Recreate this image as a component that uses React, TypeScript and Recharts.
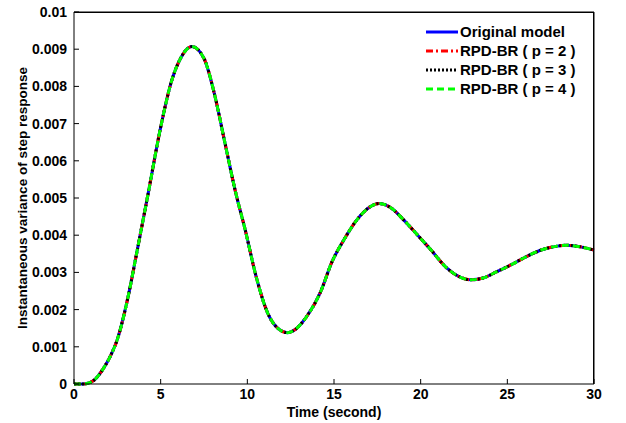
import React from 'react';
import { LineChart, Line, XAxis, YAxis, Legend, CartesianGrid } from 'recharts';

// time samples (s)
const time = [
  0, 0.5, 0.8, 1.2, 1.7, 2.1, 2.5, 3.1, 3.65, 4.25, 5.0, 5.6, 6.2, 6.8, 7.5, 8.1, 8.7, 9.3, 9.9,
  10.5, 11.2, 11.8, 12.3, 12.8, 13.4, 14.2, 14.9, 15.6, 16.3, 16.9, 17.6, 18.3, 19.0, 19.6, 20.1,
  20.6, 21.5, 22.2, 22.9, 23.6, 24.4, 25.2, 26.0, 27.0, 27.8, 28.4, 29.3, 30,
];

const originalModel = [
  0, 0, 0.00002, 0.00012, 0.00042, 0.00075, 0.0012, 0.0023, 0.0036, 0.00505, 0.0069, 0.0081,
  0.0088, 0.00907, 0.00875, 0.0078, 0.0065, 0.0052, 0.0041, 0.0029, 0.00188, 0.00148, 0.00138,
  0.00148, 0.0018, 0.00245, 0.0033, 0.0039, 0.0044, 0.0047, 0.00485, 0.00473, 0.00442, 0.00412,
  0.00386, 0.0036, 0.00312, 0.00289, 0.0028, 0.00285, 0.00302, 0.0032, 0.0034, 0.00361, 0.0037,
  0.00373, 0.00368, 0.0036,
];
// reduced models overlap the original everywhere
const rpdP2 = originalModel;
const rpdP3 = originalModel;
const rpdP4 = originalModel;

const xTicks = [0, 5, 10, 15, 20, 25, 30];
const yTicks = [0, 0.001, 0.002, 0.003, 0.004, 0.005, 0.006, 0.007, 0.008, 0.009, 0.01];
// top and right edges of the axes box
const boxTop = [0.01];
const boxRight = [30];

const data = time.map((t, i) => ({
  t,
  original: originalModel[i],
  p2: rpdP2[i],
  p3: rpdP3[i],
  p4: rpdP4[i],
}));

// chart layout
const W = 626;
const H = 423;
const M = { top: 12, right: 32, bottom: 0, left: 0 };
const Y_W = 74;
const X_H = 39;

const font = { fontFamily: '"Liberation Sans", Arial, sans-serif', fontWeight: 700, fill: '#000' };

const LegendBox = (props: any) => {
  const items = props.payload || [];
  return (
    <div style={{ fontFamily: font.fontFamily, fontWeight: 700, fontSize: 15, color: '#000' }}>
      {items.map((it: any) => (
        <div key={it.value} style={{ display: 'flex', alignItems: 'center', height: 19 }}>
          <svg width={32} height={8} style={{ marginRight: 2 }}>
            <line
              x1={0}
              y1={4}
              x2={32}
              y2={4}
              stroke={it.color}
              strokeWidth={3}
              strokeDasharray={it.payload?.strokeDasharray}
            />
          </svg>
          <span style={{ whiteSpace: 'nowrap' }}>{it.value}</span>
        </div>
      ))}
    </div>
  );
};

export default function App() {
  return (
    <div style={{ position: 'absolute', left: 0, top: 0, width: W, height: H, background: '#fff' }}>
      <LineChart width={W} height={H} data={data} margin={M}>
        <CartesianGrid stroke="#000" horizontalValues={boxTop} verticalValues={boxRight} />
        <XAxis
          dataKey="t"
          type="number"
          domain={[0, 30]}
          ticks={xTicks}
          height={X_H}
          tickSize={-5}
          tickMargin={10}
          axisLine={{ stroke: '#000' }}
          tickLine={{ stroke: '#000' }}
          tick={{ ...font, fontSize: 14 }}
          label={{ value: 'Time (second)', position: 'insideBottom', offset: 6, style: { ...font, fontSize: 14 } }}
        />
        <XAxis
          xAxisId="top"
          dataKey="t"
          orientation="top"
          type="number"
          domain={[0, 30]}
          ticks={xTicks}
          height={0}
          mirror
          tickSize={5}
          stroke="#000"
          tick={false}
        />
        <YAxis
          type="number"
          domain={[0, 0.01]}
          ticks={yTicks}
          width={Y_W}
          tickSize={-5}
          tickMargin={12}
          interval={0}
          axisLine={{ stroke: '#000' }}
          tickLine={{ stroke: '#000' }}
          tick={{ ...font, fontSize: 14 }}
          tickFormatter={(v: number) => (v === 0 ? '0' : String(v))}
          label={{
            value: 'Instantaneous variance of step response',
            angle: -90,
            position: 'insideLeft',
            offset: 22,
            style: { ...font, fontSize: 13.5, textAnchor: 'middle' },
          }}
        />
        <YAxis
          yAxisId="right"
          orientation="right"
          type="number"
          domain={[0, 0.01]}
          ticks={yTicks}
          width={0}
          mirror
          tickSize={5}
          interval={0}
          stroke="#000"
          tick={false}
        />
        <Legend
          layout="vertical"
          verticalAlign="middle"
          align="center"
          content={<LegendBox />}
          wrapperStyle={{ top: 22, left: 426, width: 195 }}
        />
        <Line dataKey="original" name="Original model" type="monotone" stroke="#0000ff" strokeWidth={3} dot={false} isAnimationActive={false} />
        <Line dataKey="p2" name="RPD-BR ( p = 2 )" type="monotone" stroke="#ff0000" strokeWidth={3} strokeDasharray="7 3 2 3" dot={false} isAnimationActive={false} />
        <Line dataKey="p3" name="RPD-BR ( p = 3 )" type="monotone" stroke="#000000" strokeWidth={3} strokeDasharray="2 2" dot={false} isAnimationActive={false} />
        <Line xAxisId="top" yAxisId="right" dataKey="p4" name="RPD-BR ( p = 4 )" type="monotone" stroke="#00ff00" strokeWidth={3} strokeDasharray="7 4" dot={false} isAnimationActive={false} />
      </LineChart>
      {/* top and right edges of the axes box, from the layout constants */}
      <div
        style={{
          position: 'absolute',
          left: Y_W,
          top: M.top,
          width: W - M.left - M.right - Y_W,
          height: H - M.top - M.bottom - X_H,
          borderTop: '1px solid #000',
          borderRight: '1px solid #000',
          boxSizing: 'border-box',
          pointerEvents: 'none',
        }}
      />
    </div>
  );
}
